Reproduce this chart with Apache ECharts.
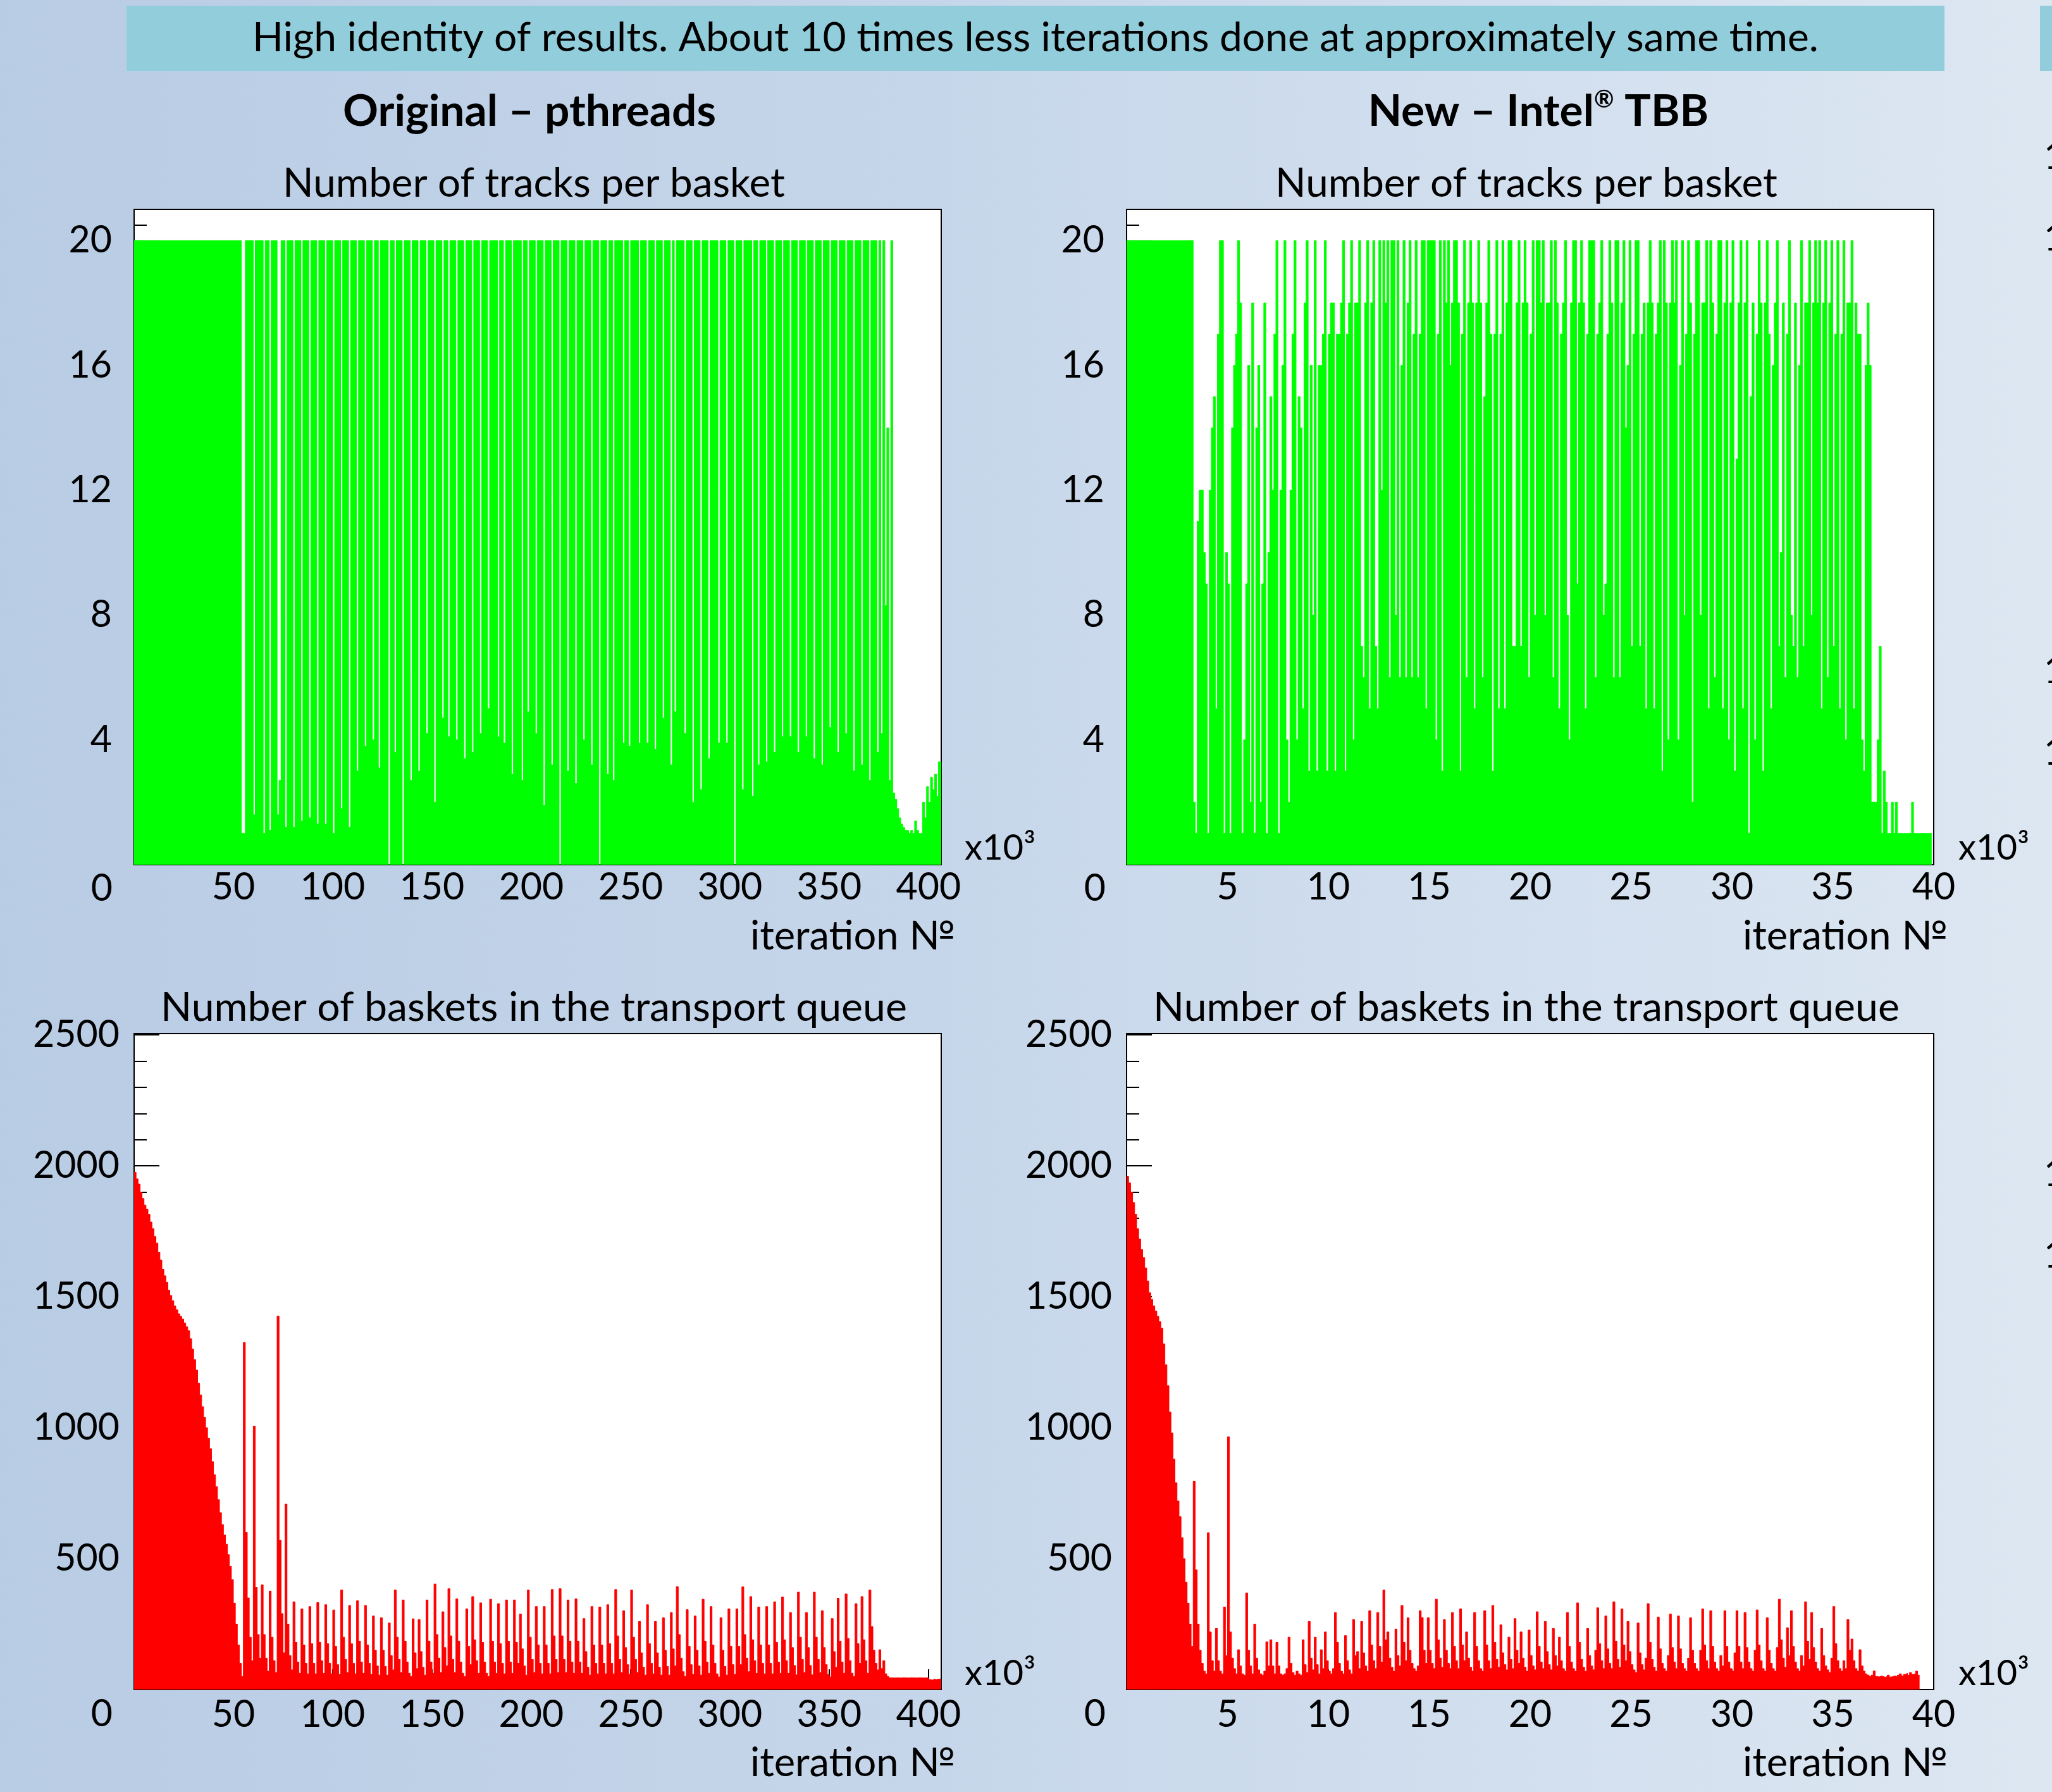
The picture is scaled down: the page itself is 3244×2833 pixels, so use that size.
<!DOCTYPE html>
<html><head><meta charset="utf-8">
<script src="https://cdn.jsdelivr.net/npm/echarts@6/dist/echarts.min.js"></script>
<style>
html,body{margin:0;padding:0;width:3244px;height:2833px;overflow:hidden;}
body{background:linear-gradient(90deg,#b8cce4 0%,#c6d6ea 45%,#dde7f2 100%);}
#chart{width:3244px;height:2833px;}
</style></head><body><div id="chart"></div>
<script>
// ---------------- DATA ----------------
// x unit: thousands of iterations
const binOriginal = 1;      // bin width, pthreads run
const binTbb = 0.1;         // bin width, TBB run
const rangeOriginal = 406.4;
const rangeTbb = 40;

// Number of tracks per basket — Original (pthreads), 406 bins
const tracksOriginal = [
 20,20,20,20,20,20,20,20,20,20,20,20,20,20,20,20,20,20,20,20,
 20,20,20,20,20,20,20,20,20,20,20,20,20,20,20,20,20,20,20,20,
 20,20,20,20,20,20,20,20,20,20,20,20,20,20,1,1,20,20,20,20,
 1.6,20,20,20,20,1,20,20,1.1,20,20,20,1.6,2.7,20,20,1.2,20,20,20,
 1.2,20,20,20,1.4,20,20,20,1.5,20,20,20,1.3,20,20,20,1.3,20,20,20,
 1.0,20,20,20,1.8,20,20,20,1.2,20,20,20,3.0,20,20,20,3.8,20,20,20,
 4.0,20,20,3.1,20,20,20,20,0,20,20,3.6,20,20,20,0,20,20,20,2.7,
 20,20,20,3.0,20,20,20,4.2,20,20,20,2.0,20,20,20,4.7,20,20,4.1,20,
 20,20,4.0,20,20,20,3.4,20,20,20,3.6,20,20,20,4.2,20,20,20,5.0,20,
 20,20,20,4.1,20,20,3.9,20,20,20,2.9,20,20,20,20,2.7,20,20,4.9,20,
 20,20,4.2,20,20,20,1.9,20,20,20,3.2,20,20,20,0,20,20,20,3.0,20,
 20,20,2.6,20,20,20,4.0,20,20,20,3.2,20,20,20,0,20,20,20,2.9,20,
 20,2.7,20,20,20,20,3.9,20,20,3.8,20,20,20,20,3.9,20,20,20,3.9,20,
 20,20,3.7,20,20,20,4.7,20,20,20,3.2,20,4.9,20,20,20,20,4.2,20,20,
 20,2.0,20,20,20,2.4,20,20,20,3.4,20,20,20,20,3.9,20,20,20,3.9,20,
 20,20,0,20,20,20,2.4,20,20,20,20,2.2,20,20,3.2,20,20,20,3.3,20,
 20,20,3.6,20,20,20,4.1,20,20,20,4.1,20,20,20,3.6,20,20,20,4.1,20,
 20,20,3.4,20,20,20,3.2,20,20,20,4.4,20,20,20,3.6,20,20,20,4.2,20,
 20,20,3.0,20,20,20,3.2,20,20,20,2.7,20,20,20,3.6,20,4.2,20,8.3,14,
 2.7,20,2.3,2.1,1.8,1.5,1.3,1.2,1.1,1.1,1.0,1.1,1.0,1.4,1.1,1.0,1.0,2.0,1.5,2.5,
 2.0,2.8,2.4,2.9,2.2,3.3
];

// Number of tracks per basket — New (Intel TBB), 399 bins of 0.1
const tracksTbb = [
 20,20,20,20,20,20,20,20,20,20,
 20,20,20,20,20,20,20,20,20,20,
 20,20,20,20,20,20,20,20,20,20,
 20,20,20,2,1,11,12,12,10,9,
 1,12,14,15,5,17,20,20,1,10,
 9,1,14,16,17,20,18,1,4,9,
 16,2,18,1,14,16,2,9,18,1,
 10,15,12,17,20,1,12,16,20,4,
 2,12,17,20,4,15,14,5,18,20,
 3,16,8,20,3,16,16,17,20,3,
 17,18,18,3,17,17,18,20,3,17,
 18,20,4,18,18,20,7,6,18,20,
 5,18,20,7,5,20,12,20,18,20,
 6,20,20,8,20,6,16,20,6,18,
 20,6,17,20,6,17,20,20,5,20,
 20,20,20,4,17,20,3,20,18,20,
 16,18,20,20,18,3,17,20,6,18,
 20,18,5,18,20,18,6,15,18,20,
 17,3,17,20,5,17,20,5,18,20,
 20,7,7,18,20,7,18,20,18,6,
 17,20,8,20,20,18,20,8,18,18,
 20,6,20,18,5,17,18,20,8,4,
 18,20,20,9,18,20,18,5,17,20,
 20,20,6,17,18,20,8,9,17,20,
 18,6,20,20,6,18,20,14,16,20,
 7,17,20,20,7,17,18,5,18,20,
 18,5,17,18,20,3,20,18,4,18,
 20,18,20,4,16,20,8,17,20,18,
 2,17,20,20,8,18,18,20,5,20,
 18,6,17,20,20,5,18,20,4,18,
 20,3,13,18,20,5,18,20,1,15,
 18,4,17,20,18,3,18,20,17,5,
 16,18,20,7,10,18,6,17,20,8,
 7,18,6,16,20,7,18,18,20,8,
 18,20,18,20,5,18,20,6,18,20,
 7,17,20,5,17,20,4,18,18,20,
 5,18,17,17,4,3,16,18,16,2,
 2,2,4,7,1,3,2,1,1,2,
 1,2,1,1,1,1,1,1,1,2,
 1,1,1,1,1,1,1,1,1
];

// Number of baskets in the transport queue — Original (pthreads), 406 bins
const queueOriginal = [
 1975,1950,1930,1900,1875,1850,1835,1815,1785,1760,
 1730,1705,1670,1640,1605,1580,1555,1525,1505,1485,
 1465,1450,1435,1425,1415,1400,1385,1370,1340,1300,
 1260,1220,1170,1125,1080,1040,1000,960,920,870,
 820,775,725,675,630,590,555,515,470,420,
 330,250,170,100,50,1325,600,350,200,110,
 1006,390,210,120,400,210,120,70,376,200,
 110,65,1426,570,290,140,708,250,130,75,
 335,180,105,62,308,170,100,60,317,175,
 100,60,332,180,110,62,324,175,100,60,
 304,165,95,58,380,200,115,65,321,175,
 100,60,339,185,105,62,321,170,100,58,
 281,150,90,55,274,150,88,55,254,130,
 75,380,200,115,65,342,185,105,62,50,
 270,140,80,267,145,85,55,342,185,105,
 62,403,210,120,65,297,160,90,385,205,
 115,65,346,185,105,62,50,308,165,95,
 355,190,110,62,331,180,105,62,50,345,
 185,105,62,328,175,100,60,342,185,105,
 62,342,180,100,288,155,90,55,380,200,
 115,65,317,170,100,60,317,170,100,60,
 382,205,115,65,385,205,115,65,342,185,
 105,62,346,185,105,62,271,145,85,55,
 317,170,100,60,315,170,100,60,324,175,
 100,60,382,205,115,65,301,160,95,58,
 380,200,115,65,260,140,85,55,324,175,
 100,60,260,140,85,55,274,150,88,55,
 294,155,90,393,210,120,68,50,305,165,
 95,58,281,150,90,55,345,185,105,62,
 317,170,100,60,48,274,150,88,55,308,
 165,95,58,308,165,95,392,210,120,68,
 355,190,110,62,315,170,100,60,317,170,
 100,60,335,180,105,62,353,190,110,62,
 294,160,92,56,372,200,115,65,294,160,
 92,56,372,200,115,65,301,160,95,58,
 48,271,145,85,349,185,105,62,365,195,
 110,62,50,328,175,100,355,190,110,62,
 380,240,150,100,75,152,80,110,60,50,
 45,45,44,45,45,44,45,45,45,44,
 45,45,45,44,45,45,45,44,45,45,
 38,36,40,38,40,40
];

// Number of baskets in the transport queue — New (Intel TBB), 393 bins of 0.1
const queueTbb = [
 1960,1935,1900,1860,1815,1760,1720,1680,1650,1610,
 1560,1515,1490,1465,1445,1425,1405,1380,1320,1240,
 1160,1060,980,880,790,720,660,580,500,410,
 330,250,165,796,457,250,150,100,70,60,
 599,220,110,70,233,110,70,60,315,130,
 965,220,120,80,60,152,90,60,55,369,
 150,90,60,250,120,75,60,55,70,182,
 90,190,90,60,180,90,60,55,60,80,
 200,100,65,55,70,60,55,190,95,65,
 260,120,75,200,95,60,152,80,220,110,
 70,60,80,294,180,100,70,60,206,110,
 75,60,267,130,145,80,260,140,90,70,
 301,170,110,80,294,165,105,380,190,220,
 120,85,70,231,130,90,321,180,110,274,
 150,100,80,70,90,301,275,150,100,274,
 150,100,80,345,190,120,85,267,150,100,
 80,294,165,110,80,308,170,110,220,120,
 85,70,294,165,110,80,70,301,170,110,
 80,321,180,115,85,247,140,95,75,200,
 115,80,271,150,100,220,120,85,70,227,
 130,90,75,297,165,105,80,260,145,95,
 75,233,130,90,200,110,80,70,294,165,
 105,80,70,331,180,115,85,70,233,130,
 90,75,150,312,175,110,80,281,155,100,
 80,335,185,115,85,308,170,110,260,145,
 95,75,65,254,140,95,75,120,328,180,
 115,85,70,277,155,100,80,70,130,288,
 160,105,80,281,155,100,80,70,120,274,
 150,100,80,70,150,308,170,110,80,301,
 165,105,80,70,130,90,301,165,105,80,
 70,140,301,165,105,80,294,160,105,80,
 70,150,304,170,110,80,70,274,150,100,
 80,70,160,345,190,120,85,236,130,301,
 165,105,80,70,130,90,335,185,115,294,
 160,105,80,70,233,130,90,75,65,120,
 317,175,110,80,70,110,80,267,150,193,
 110,80,70,152,90,70,60,55,50,55,
 71,50,48,52,50,47,50,55,48,50,
 52,49,55,60,52,58,62,55,65,58,
 60,70,55
];

// texts
const bannerText = 'High identity of results. About 10 times less iterations done at approximately same time.';
const headOriginal = 'Original – pthreads';
const headTbbParts = ['New – Intel', '®', ' TBB'];
const titleTracks = 'Number of tracks per basket';
const titleQueue = 'Number of baskets in the transport queue';
const axisNameX = 'iteration №';
const axisExpX = 'x10³';

// ---------------- LAYOUT ----------------
const FONT = 'Lato, "Noto Sans", "DejaVu Sans", sans-serif';
const mctx = document.createElement('canvas').getContext('2d');
function textW(t, weight, size) { mctx.font = weight + ' ' + size + 'px ' + FONT; return mctx.measureText(t).width; }
function fitSize(t, weight, target) { return 100 * target / textW(t, weight, 100); }

const bannerSize = fitSize(bannerText, 'normal', 2476);
const headSize = fitSize(headOriginal, 'bold', 590);
const subSize1 = fitSize(titleTracks, 'normal', 794);
const subSize2 = fitSize(titleQueue, 'normal', 1180);
const tickSize = fitSize('2500', 'normal', 137);
const nameSize = fitSize(axisNameX, 'normal', 324);
const expSize = fitSize(axisExpX, 'normal', 112);

const grids = [
  {left: 212, top: 331, width: 1276, height: 1036},
  {left: 1781, top: 331, width: 1276, height: 1036},
  {left: 212, top: 1634, width: 1276, height: 1037},
  {left: 1781, top: 1634, width: 1276, height: 1037}
];

function histPoints(vals, bw, end) {
  const pts = vals.map((v, i) => [Math.round(i * bw * 1000) / 1000, v]);
  pts.push([end, vals[vals.length - 1]]);
  return pts;
}

const tickStyle = {color: '#000', width: 2};
const xAxes = [], yAxes = [];
function addAxes(gi, xmax, xMajor, xMinor, ymax, yMajor, yMinor, labelEvery, yMargin, xMargin) {
  const isMult = (v, m) => Math.abs(v / m - Math.round(v / m)) < 1e-6;
  xAxes.push({
    type: 'value', gridIndex: gi, position: 'bottom', min: 0, max: xmax, interval: xMajor,
    axisLine: {show: false, onZero: false}, splitLine: {show: false},
    axisTick: {show: true, inside: true, length: 32, lineStyle: tickStyle},
    axisLabel: {show: true, margin: xMargin, fontSize: tickSize, fontFamily: FONT, color: '#000',
      formatter: v => (v > 0 && isMult(v, xMajor)) ? String(Math.round(v)) : ''}
  });
  xAxes.push({
    type: 'value', gridIndex: gi, position: 'bottom', min: 0, max: xmax, interval: xMinor,
    axisLine: {show: false, onZero: false}, splitLine: {show: false},
    axisTick: {show: true, inside: true, length: 16, lineStyle: tickStyle},
    axisLabel: {show: false}
  });
  yAxes.push({
    type: 'value', gridIndex: gi, position: 'left', min: 0, max: ymax, interval: yMajor,
    axisLine: {show: false, onZero: false}, splitLine: {show: false},
    axisTick: {show: true, inside: true, length: 40, lineStyle: tickStyle},
    axisLabel: {show: true, margin: yMargin, fontSize: tickSize, fontFamily: FONT, color: '#000',
      formatter: v => (v > 0 && isMult(v, labelEvery)) ? String(Math.round(v)) : ''}
  });
  yAxes.push({
    type: 'value', gridIndex: gi, position: 'left', min: 0, max: ymax, interval: yMinor,
    axisLine: {show: false, onZero: false}, splitLine: {show: false},
    axisTick: {show: true, inside: true, length: 20, lineStyle: tickStyle},
    axisLabel: {show: false}
  });
}
addAxes(0, rangeOriginal, 50, 10, 21, 2, 0.5, 4, 35, 6);
addAxes(1, rangeTbb, 5, 1, 21, 2, 0.5, 4, 35, 6);
addAxes(2, rangeOriginal, 50, 10, 2505, 500, 100, 500, 23, 10);
addAxes(3, rangeTbb, 5, 1, 2505, 500, 100, 500, 23, 10);

function histSeries(k, vals, bw, end, color) {
  return {
    type: 'line', xAxisIndex: 2 * k, yAxisIndex: 2 * k, step: 'end',
    symbol: 'none', showSymbol: false, silent: true, animation: false,
    lineStyle: {color: color, width: 1}, areaStyle: {color: color, opacity: 1},
    data: histPoints(vals, bw, end), z: 2
  };
}

// graphic texts
function txt(t, x, y, size, opts) {
  opts = opts || {};
  const weight = opts.weight || 'normal';
  const align = opts.align || 'center';
  return {type: 'text', silent: true, z: 10, style: {
    text: t, x: x, y: y, fill: '#000',
    font: weight + ' ' + size.toFixed(2) + 'px ' + FONT,
    align: align, textAlign: align, verticalAlign: 'middle', textVerticalAlign: 'middle'
  }};
}
const graphics = [
  {type: 'rect', silent: true, z: 1, shape: {x: 200, y: 9, width: 2874, height: 103}, style: {fill: '#92cddc'}},
  {type: 'rect', silent: true, z: 1, shape: {x: 3225, y: 9, width: 40, height: 103}, style: {fill: '#92cddc'}},
  txt(bannerText, 1637, 60, bannerSize),
  txt(headOriginal, 837, 177, headSize, {weight: 'bold'})
];
// "New – Intel® TBB" with superscript ®
(function () {
  const supSize = headSize * 0.55;
  const w0 = textW(headTbbParts[0], 'bold', headSize);
  const w1 = textW(headTbbParts[1], 'bold', supSize);
  const w2 = textW(headTbbParts[2], 'bold', headSize);
  const x0 = 2432 - (w0 + w1 + w2) / 2;
  graphics.push(txt(headTbbParts[0], x0, 177, headSize, {weight: 'bold', align: 'left'}));
  graphics.push(txt(headTbbParts[1], x0 + w0, 177 - headSize * 0.28, supSize, {weight: 'bold', align: 'left'}));
  graphics.push(txt(headTbbParts[2], x0 + w0 + w1, 177, headSize, {weight: 'bold', align: 'left'}));
})();
[[844, 2413]].forEach(() => {});
graphics.push(txt(titleTracks, 844, 290, subSize1));
graphics.push(txt(titleTracks, 2413, 290, subSize1));
graphics.push(txt(titleQueue, 844, 1593, subSize2));
graphics.push(txt(titleQueue, 2413, 1593, subSize2));
// corner zeros
graphics.push(txt('0', 178, 1405, tickSize, {align: 'right'}));
graphics.push(txt('0', 1748, 1405, tickSize, {align: 'right'}));
graphics.push(txt('0', 178, 2710, tickSize, {align: 'right'}));
graphics.push(txt('0', 1748, 2710, tickSize, {align: 'right'}));
// exponent and axis names
graphics.push(txt(axisExpX, 1525, 1341, expSize, {align: 'left'}));
graphics.push(txt(axisExpX, 3096, 1341, expSize, {align: 'left'}));
graphics.push(txt(axisExpX, 1525, 2646, expSize, {align: 'left'}));
graphics.push(txt(axisExpX, 3096, 2646, expSize, {align: 'left'}));
graphics.push(txt(axisNameX, 1510, 1481, nameSize, {align: 'right'}));
graphics.push(txt(axisNameX, 3079, 1481, nameSize, {align: 'right'}));
graphics.push(txt(axisNameX, 1510, 2788, nameSize, {align: 'right'}));
graphics.push(txt(axisNameX, 3079, 2788, nameSize, {align: 'right'}));
// cut-off labels of the neighbouring panel at the right edge
[248, 377, 1061, 1190, 1856, 1985].forEach(y => graphics.push(txt('10', 3231, y, tickSize, {align: 'left'})));

const chart = echarts.init(document.getElementById('chart'), null, {renderer: 'canvas', width: 3244, height: 2833});
chart.setOption({
  backgroundColor: 'transparent',
  animation: false,
  grid: grids.map(g => Object.assign({show: true, backgroundColor: '#ffffff', borderColor: '#000', borderWidth: 2, containLabel: false, outerBoundsMode: 'none'}, g)),
  xAxis: xAxes,
  yAxis: yAxes,
  series: [
    histSeries(0, tracksOriginal, binOriginal, rangeOriginal, '#00ff00'),
    histSeries(1, tracksTbb, binTbb, 39.9, '#00ff00'),
    histSeries(2, queueOriginal, binOriginal, rangeOriginal, '#ff0000'),
    histSeries(3, queueTbb, binTbb, 39.3, '#ff0000')
  ],
  graphic: graphics
});
</script>
</body></html>
